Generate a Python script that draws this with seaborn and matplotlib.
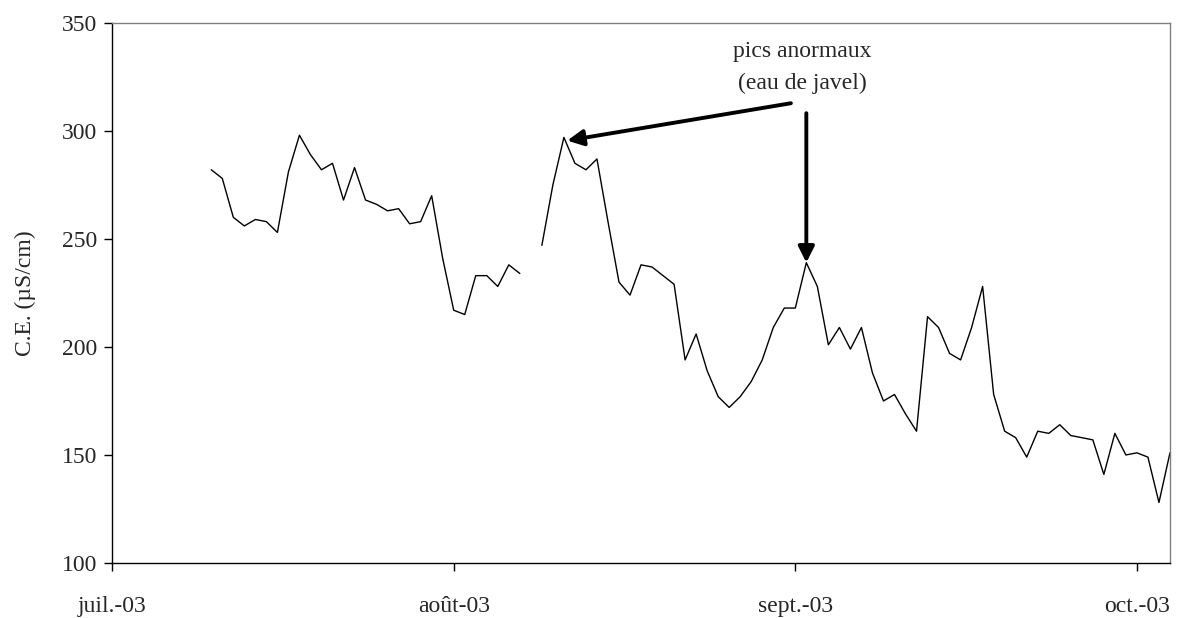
"""Conductivité électrique (C.E.) journalière, juillet - octobre 2003."""

import matplotlib
matplotlib.use("Agg")
import matplotlib.pyplot as plt
import numpy as np
import pandas as pd
import seaborn as sns

# day 0 = 1 July 2003, one reading per day; day 38 missing
days = list(range(9, 97))
ce_values = [
    282, 278, 260, 256, 259, 258, 253, 281, 298, 289,   # 9-18
    282, 285, 268, 283, 268, 266, 263, 264, 257, 258,   # 19-28
    270, 241, 217, 215, 233, 233, 228, 238, 234, np.nan,  # 29-38
    247, 275, 297, 285, 282, 287, 258, 230, 224, 238,   # 39-48
    237, 233, 229, 194, 206, 189, 177, 172, 177, 184,   # 49-58
    194, 209, 218, 218, 239, 228, 201, 209, 199, 209,   # 59-68
    188, 175, 178, 169, 161, 214, 209, 197, 194, 209,   # 69-78
    228, 178, 161, 158, 149, 161, 160, 164, 159, 158,   # 79-88
    157, 141, 160, 150, 151, 149, 128, 151,             # 89-96
]
tick_days = [0, 31, 62, 93]
tick_labels = ["juil.-03", "août-03", "sept.-03", "oct.-03"]
peak_days = [41, 63]
peak_values = [297, 239]

sns.set_theme(style="white")
plt.rcParams["font.family"] = ["Liberation Serif", "DejaVu Serif"]

df = pd.DataFrame({"jour": days, "ce": ce_values})
# split at the missing reading so the line is broken there
df["segment"] = df["ce"].isna().cumsum()
df = df.dropna()

fig, ax = plt.subplots(figsize=(11.8, 6.18), dpi=100)
fig.subplots_adjust(left=0.095, right=0.9915, top=0.963, bottom=0.089)

sns.lineplot(data=df, x="jour", y="ce", units="segment", estimator=None,
             color="black", linewidth=1.0, ax=ax)

ax.set_xlim(0, 96)
ax.set_ylim(100, 350)
ax.set_yticks(range(100, 351, 50))
ax.set_xticks(tick_days)
ax.set_xticklabels(tick_labels)
ax.set_xlabel("")
ax.set_ylabel("C.E. (µS/cm)", fontsize=17, labelpad=18)
ax.tick_params(axis="both", labelsize=17, length=6, width=1, color="black",
               direction="out", left=True, bottom=True)
ax.tick_params(axis="x", pad=18)
ax.tick_params(axis="y", pad=5)

for side in ["left", "bottom"]:
    ax.spines[side].set_color("black")
    ax.spines[side].set_linewidth(1.0)
for side in ["top", "right"]:
    ax.spines[side].set_color("#808080")
    ax.spines[side].set_linewidth(1.0)

# annotation
ax.text(62.6, 329.5, "pics anormaux\n(eau de javel)", ha="center", va="center",
        fontsize=17, linespacing=1.65)
arrow = dict(arrowstyle="-|>", lw=2.8, color="black", mutation_scale=24,
             shrinkA=0, shrinkB=0)
ax.annotate("", xy=(peak_days[0] + 0.3, peak_values[0] - 1.5),
            xytext=(61.6, 312.8), arrowprops=arrow)
ax.annotate("", xy=(peak_days[1], peak_values[1]),
            xytext=(63, 308.2), arrowprops=arrow)

fig.savefig("out.png", dpi=100)
